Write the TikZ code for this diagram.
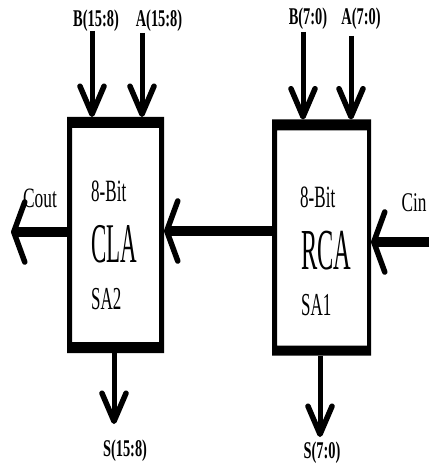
\documentclass[tikz,border=0pt]{standalone}
\usepackage{fontspec}
\setmainfont{Liberation Serif}
\usetikzlibrary{calc,arrows.meta}
\newcommand\sqz[2]{\scalebox{#1}[1]{#2}}
\begin{document}
\begin{tikzpicture}[x=1pt,y=-1pt,
  blk/.style={draw=none,inner sep=0pt,outer sep=0pt,minimum width=97pt,minimum height=236pt},
  lbl/.style={inner sep=0pt,font=\fontsize{24}{24}\selectfont\bfseries},
  txt/.style={inner sep=0pt,anchor=west},
  frame/.style={fill=black,even odd rule},
  varrow/.style={line width=5pt,-{Straight Barb[length=28pt,width=24pt,line width=5.5pt,round]}},
  harrow/.style={line width=10pt,-{Straight Barb[length=11pt,width=60pt,line width=5.5pt,round]}}]
\useasboundingbox (0,0) rectangle (429,470);

% blocks
\node[blk] (cla) at (115.5,235) {};
\node[blk,minimum width=99pt] (rca) at (321.5,237.5) {};
\fill[frame] (cla.north west) rectangle (cla.south east)
  ([xshift=5pt,yshift=-11pt]cla.north west) rectangle ([xshift=-5pt,yshift=11pt]cla.south east);
\fill[frame] (rca.north west) rectangle (rca.south east)
  ([xshift=5pt,yshift=-11pt]rca.north west) rectangle ([xshift=-4pt,yshift=10pt]rca.south east);

% block texts
\node[txt,font=\fontsize{31}{31}\selectfont] (c8) at (91,191) {\sqz{0.55}{8-Bit}};
\node[txt,font=\fontsize{56}{56}\selectfont] (cn) at (91,244) {\sqz{0.41}{CLA}};
\node[txt,font=\fontsize{32}{32}\selectfont] (cs) at (91,299) {\sqz{0.53}{SA2}};
\node[txt,font=\fontsize{31}{31}\selectfont] (r8) at (300,197) {\sqz{0.55}{8-Bit}};
\node[txt,font=\fontsize{58}{58}\selectfont] (rn) at (301,251) {\sqz{0.42}{RCA}};
\node[txt,font=\fontsize{32}{32}\selectfont] (rs) at (301,305) {\sqz{0.53}{SA1}};

% labels
\node[lbl] (lb1) at (96,21) {\sqz{0.6}{B(15:8)}};
\node[lbl] (la1) at (159,21) {\sqz{0.6}{A(15:8)}};
\node[lbl] (lb2) at (308,19) {\sqz{0.6}{B(7:0)}};
\node[lbl] (la2) at (361,19) {\sqz{0.6}{A(7:0)}};
\node[lbl] (ls2) at (125,451) {\sqz{0.6}{S(15:8)}};
\node[lbl] (ls1) at (322,453) {\sqz{0.6}{S(7:0)}};
\node[inner sep=0pt,font=\fontsize{28}{28}\selectfont] (lcout) at (40,198) {\sqz{0.62}{Cout}};
\node[inner sep=0pt,font=\fontsize{27}{27}\selectfont] (lcin) at (414,203) {\sqz{0.64}{Cin}};

% connector coordinates
\coordinate (b1) at (92,31);
\coordinate (a1) at (142,33);
\coordinate (b2) at (303,32);
\coordinate (a2) at (351,36);
\coordinate (s2) at (114,424);
\coordinate (s1) at (320,437);
\coordinate (cout) at (11,232);
\coordinate (cin) at (429,242);
\coordinate (mid) at (220,231);

% inputs
\draw[varrow] (b1) -- (b1 |- cla.north);
\draw[varrow] (a1) -- (a1 |- cla.north);
\draw[varrow] (b2) -- (b2 |- rca.north);
\draw[varrow] (a2) -- (a2 |- rca.north);
% outputs
\draw[varrow] (s2 |- cla.south) -- (s2);
\draw[varrow] (s1 |- rca.south) -- (s1);
% carries
\draw[harrow] (cout -| cla.west) -- (cout);
\draw[harrow] (mid -| rca.west) -- (mid -| cla.east);
\draw[harrow] (cin) -- (cin -| rca.east);
\end{tikzpicture}
\end{document}
